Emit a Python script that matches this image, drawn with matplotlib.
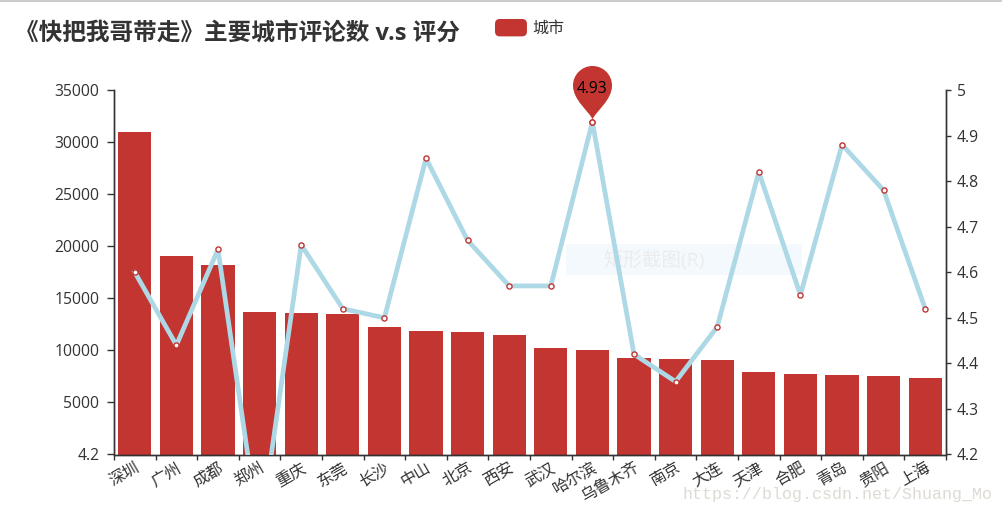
import matplotlib
matplotlib.use("Agg")
import matplotlib.pyplot as plt
from matplotlib.patches import Rectangle, FancyBboxPatch
from matplotlib.path import Path
from matplotlib.legend_handler import HandlerPatch

plt.rcParams['font.family'] = ['Open Sans', 'Noto Sans CJK SC', 'DejaVu Sans']

cities = ['深圳', '广州', '成都', '郑州', '重庆', '东莞', '长沙', '中山', '北京', '西安',
          '武汉', '哈尔滨', '乌鲁木齐', '南京', '大连', '天津', '合肥', '青岛', '贵阳', '上海']
reviews = [30970, 19060, 18200, 13640, 13590, 13540, 12240, 11860, 11810, 11520,
           10230, 10030, 9270, 9220, 9120, 7920, 7780, 7590, 7540, 7350]
scores = [4.6, 4.44, 4.65, 4.02, 4.66, 4.52, 4.5, 4.85, 4.67, 4.57,
          4.57, 4.93, 4.42, 4.36, 4.48, 4.82, 4.55, 4.88, 4.78, 4.52]
left_ticks = [4.2, 5000, 10000, 15000, 20000, 25000, 30000, 35000]
left_labels = ['4.2', '5000', '10000', '15000', '20000', '25000', '30000', '35000']
right_ticks = [4.2, 4.3, 4.4, 4.5, 4.6, 4.7, 4.8, 4.9, 5.0]
right_labels = ['4.2', '4.3', '4.4', '4.5', '4.6', '4.7', '4.8', '4.9', '5']

W, H = 1003, 514
RED, BLUE, INK = '#c23531', '#add8e6', '#333333'


def fx(px):
    return px / W


def fy(py):
    return 1 - py / H


fig = plt.figure(figsize=(W / 100, H / 100), dpi=100, facecolor='white')
fig.add_artist(Rectangle((0, fy(2)), 1, 2 / H, transform=fig.transFigure, fc='#cccccc', ec='none'))

L, R, T, B = 114, 946, 90, 454.5
ax = fig.add_axes([fx(L), fy(B), (R - L) / W, (B - T) / H])
ax2 = ax.twinx()
ax.set_zorder(1)
ax2.set_zorder(2)
ax2.patch.set_visible(False)

x = list(range(len(cities)))
bars = ax.bar(x, reviews, width=0.8, color=RED, label='城市', linewidth=0)
ax.set_xlim(-0.5, len(cities) - 0.5)
ax.set_ylim(4.2, 35000)
ax.set_yticks(left_ticks, left_labels)

# boundary ticks, centred labels
ax.set_xticks([i - 0.5 for i in range(len(cities) + 1)], [''] * (len(cities) + 1))
ax.set_xticks(x, cities, minor=True, rotation=30, ha='right', va='top', rotation_mode='anchor')
ax.tick_params(axis='x', which='major', length=3.6, width=1, color=INK)
ax.tick_params(axis='x', which='minor', length=0, pad=4, labelsize=11.5, labelcolor=INK)
ax.tick_params(axis='y', length=4.8, width=1, color=INK, labelsize=11.3, labelcolor=INK, pad=5.8)

ax2.set_ylim(4.2, 5.0)
ax2.set_yticks(right_ticks, right_labels)
ax2.tick_params(axis='y', length=3.6, width=1, color=INK, labelsize=11.3, labelcolor=INK, pad=4)

for a in (ax, ax2):
    a.spines['top'].set_visible(False)
    for s in ('left', 'right', 'bottom'):
        a.spines[s].set_color(INK)
        a.spines[s].set_linewidth(1)

# screenshot-tool tooltip remnant
ax.add_patch(Rectangle((fx(566), fy(275)), 236 / W, 31 / H, transform=fig.transFigure,
                       fc='#f3f9fd', ec='none', zorder=0.5, clip_on=False))
ax.text(fx(654.5), fy(260), '矩形截图(R)', transform=fig.transFigure, fontsize=14, color='#ececec',
        ha='center', va='center', zorder=0.6)

ax2.plot(x, scores, color=BLUE, lw=3.4, zorder=3, solid_joinstyle='round',
         marker='o', ms=3.7, mfc='white', mec=RED, mew=1.0)

# map-pin marker with tip at the origin (units: pixels)
r = 19.5
cy = 37.0
k = 0.5523 * r
pin = Path(
    [(0, 3), (-3, 11), (-r, 22), (-r, cy),
     (-r, cy + k), (-k, cy + r), (0, cy + r),
     (k, cy + r), (r, cy + k), (r, cy),
     (r, 22), (3, 11), (0, 3), (0, 3)],
    [Path.MOVETO, Path.CURVE4, Path.CURVE4, Path.CURVE4,
     Path.CURVE4, Path.CURVE4, Path.CURVE4,
     Path.CURVE4, Path.CURVE4, Path.CURVE4,
     Path.CURVE4, Path.CURVE4, Path.CURVE4, Path.CLOSEPOLY])
best = max(range(len(scores)), key=lambda i: scores[i])
pin_size = 2 * (cy + r) * 0.72
ax2.plot([x[best]], [scores[best]], marker=pin, ms=pin_size, mfc=RED, mec='none',
         ls='none', clip_on=False, zorder=4)
ax2.plot([x[best]], [scores[best]], marker='o', ms=3.7, mfc='white', mec=RED, mew=1.0,
         ls='none', clip_on=False, zorder=5)
ax2.annotate(f'{scores[best]:.2f}', (x[best], scores[best]), xytext=(0, 32.5 * 0.72),
             textcoords='offset points', ha='center', va='center', fontsize=11.2,
             color='black', zorder=6, annotation_clip=False)

fig.text(fx(15), fy(33.5), '《快把我哥带走》主要城市评论数 v.s 评分', fontsize=17, fontweight='bold',
         color=INK, ha='left', va='center')


class RoundHandler(HandlerPatch):
    def create_artists(self, legend, orig_handle, xdescent, ydescent, width, height, fontsize, trans):
        p = FancyBboxPatch((-xdescent + 3, -ydescent + 3), width - 6, height - 6,
                           boxstyle='round,pad=3,rounding_size=3.5', fc=RED, ec='none', transform=trans)
        return [p]


fig.legend(handles=[bars.patches[0]], labels=['城市'], handler_map={bars.patches[0]: RoundHandler()},
           loc='center left', bbox_to_anchor=(fx(495), fy(28)), frameon=False, fontsize=11.5,
           labelcolor=INK, borderpad=0, borderaxespad=0, handlelength=2.0, handleheight=1.3,
           handletextpad=0.35)

fig.text(fx(683), fy(495), 'https://blog.csdn.net/Shuang_Mo', fontsize=12, family='Liberation Mono',
         color='#dddbd3', ha='left', va='center', zorder=10)

fig.savefig('out.png', dpi=100)
